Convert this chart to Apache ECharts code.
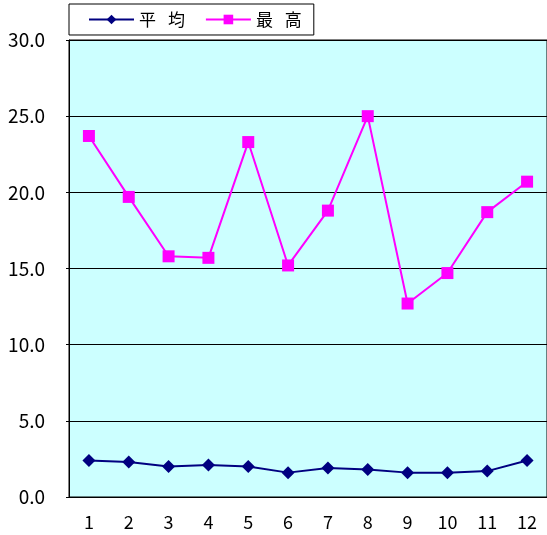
<!DOCTYPE html>
<html>
<head>
<meta charset="utf-8">
<script src="https://cdn.jsdelivr.net/npm/echarts@6/dist/echarts.min.js"></script>
<style>
    html, body { margin: 0; padding: 0; background: #fff; }
    #chart { width: 547px; height: 535px; }
</style>
</head>
<body>
<div id="chart"></div>
<script>
    // 月
    var months = ['1', '2', '3', '4', '5', '6', '7', '8', '9', '10', '11', '12'];
    // 平均
    var avgData = [2.4, 2.3, 2.0, 2.1, 2.0, 1.6, 1.9, 1.8, 1.6, 1.6, 1.7, 2.4];
    // 最高
    var maxData = [23.7, 19.7, 15.8, 15.7, 23.3, 15.2, 18.8, 25.0, 12.7, 14.7, 18.7, 20.7];

    var font = '"Noto Sans CJK JP", "Noto Sans", sans-serif';
    var chart = echarts.init(document.getElementById('chart'));
    chart.setOption({
        animation: false,
        textStyle: { fontFamily: font },
        legend: {
            left: 69,
            top: 4,
            padding: [7, 12, 7, 19],
            itemWidth: 45,
            itemHeight: 12,
            itemGap: 20,
            borderColor: '#000',
            borderWidth: 1,
            backgroundColor: '#fff',
            lineStyle: { width: 2 },
            textStyle: { fontSize: 17, color: '#000', fontFamily: font },
            // 字間を広げる
            formatter: function (name) { return name.replace(' ', '\u2002\u2009'); },
            data: ['平 均', '最 高']
        },
        grid: {
            left: 69,
            top: 40,
            width: 480,
            height: 457,
            show: true,
            backgroundColor: '#ccffff',
            borderColor: '#000',
            borderWidth: 1
        },
        xAxis: {
            type: 'category',
            data: months,
            boundaryGap: true,
            axisLine: { lineStyle: { color: '#000', width: 1 } },
            axisTick: { inside: true, length: 4, lineStyle: { color: '#000' } },
            axisLabel: { color: '#000', fontSize: 18, margin: 16, fontFamily: font }
        },
        yAxis: {
            type: 'value',
            min: 0,
            max: 30,
            interval: 5,
            axisLine: { show: true, lineStyle: { color: '#000', width: 1 } },
            axisTick: { show: true, length: 3, lineStyle: { color: '#000' } },
            axisLabel: {
                color: '#000', fontSize: 19, margin: 24, fontFamily: font,
                formatter: function (v) { return v.toFixed(1); }
            },
            splitLine: { lineStyle: { color: '#000', width: 1 } }
        },
        series: [
            {
                name: '平 均',
                type: 'line',
                data: avgData,
                symbol: 'diamond',
                symbolSize: 13,
                itemStyle: { color: '#000080' },
                lineStyle: { color: '#000080', width: 2 }
            },
            {
                name: '最 高',
                type: 'line',
                data: maxData,
                symbol: 'rect',
                symbolSize: 12,
                itemStyle: { color: '#ff00ff' },
                lineStyle: { color: '#ff00ff', width: 2 }
            }
        ]
    });
</script>
</body>
</html>
